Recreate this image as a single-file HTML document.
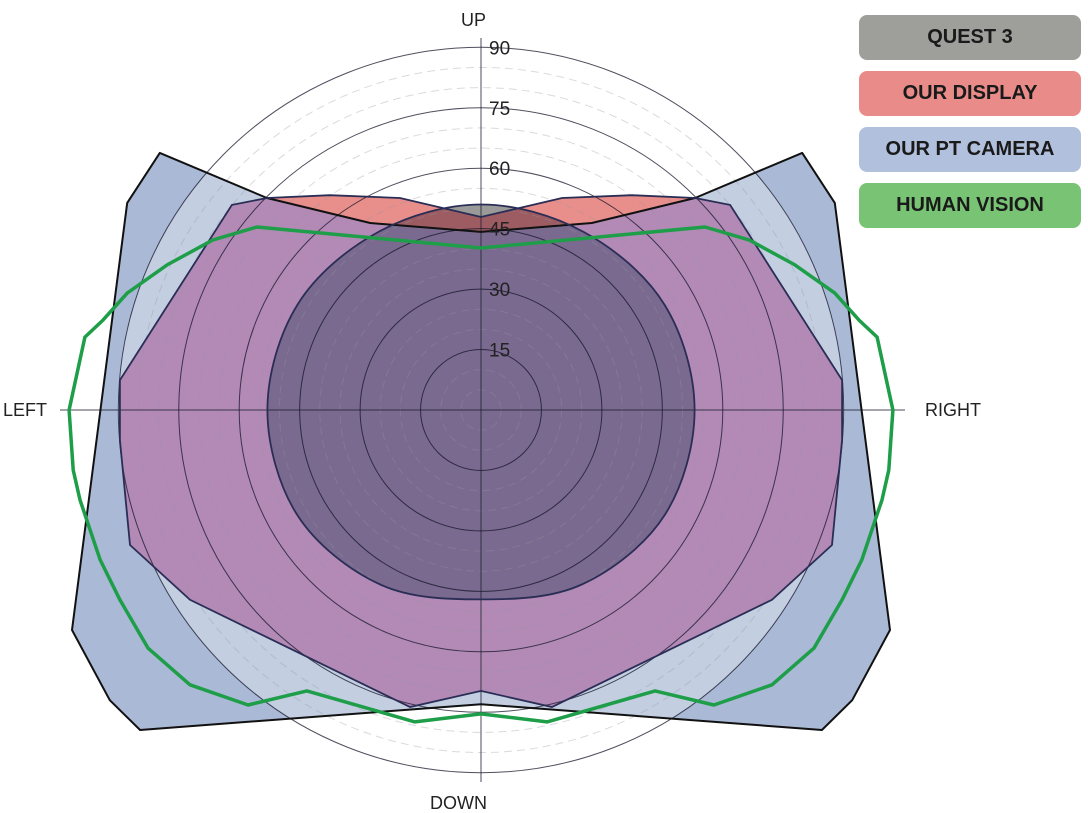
<!DOCTYPE html>
<html><head><meta charset="utf-8"><style>
html,body{margin:0;padding:0;background:#fff;}
body{width:1088px;height:813px;overflow:hidden;position:relative;font-family:"Liberation Sans",sans-serif;}
.leg{position:absolute;left:859px;width:222px;height:45px;border-radius:8px;font-weight:bold;font-size:20px;color:#1a1a1a;text-align:center;line-height:45px;}
</style></head><body>
<svg id="chart" width="1088" height="813" style="position:absolute;left:0;top:0"></svg>
<div class="leg" style="top:15px;background:#9e9e9b">QUEST 3</div>
<div class="leg" style="top:71px;background:#e98c89">OUR DISPLAY</div>
<div class="leg" style="top:127px;background:#b1c0dc">OUR PT CAMERA</div>
<div class="leg" style="top:183px;background:#79c375">HUMAN VISION</div>
<script>
// data in degrees: horizontal (h) and vertical (v) field-of-view coordinates
const ringTicks=[15,30,45,60,75,90];
const tickLabels=["15","30","45","60","75","90"];
const dashRings=[5,10,20,25,35,40,50,55,65,70,80,85];
const cameraH=[-79.7,-53.1,-27.5,0,27.5,53.1,79.7,87.8,101.5,92.1,84.6,0,-84.6,-92.1,-101.5,-87.8];
const cameraV=[63.8,52.6,46.4,44.2,46.4,52.6,63.8,51.4,-54.6,-72.0,-79.4,-73.0,-79.4,-72.0,-54.6,51.4];
const displayH=[-53.1,-37.5,-20.1,0,20.1,37.5,53.1,61.8,89.6,89.6,87.1,72.2,17.6,0,-17.6,-72.2,-87.1,-89.6,-89.6,-61.8];
const displayV=[52.6,53.3,52.6,47.9,52.6,53.3,52.6,50.9,7.4,-7.4,-33.5,-47.1,-73.7,-69.7,-73.7,-47.1,-33.5,-7.4,7.4,50.9];
const questAngle=[0,30,60,90,120,150,180,210,240,270,300,330];
const questR=[53,52.5,51,51,51,52.5,53,52.5,50,47,50,52.5];
const humanH=[-102.2,-98.3,-93.8,-87.8,-77.9,-66.5,-55.6,0,55.6,66.5,77.9,87.8,93.8,98.3,102.2,101.2,99.5,94.5,89.6,82.6,72.2,57.8,43.2,16.4,0,-16.4,-43.2,-57.8,-72.2,-82.6,-89.6,-94.5,-99.5,-101.2];
const humanV=[0,18.1,22.3,29.0,36.0,42.2,45.4,40.2,45.4,42.2,36.0,29.0,22.3,18.1,0,-14.9,-22.3,-37.2,-47.1,-59.1,-68.2,-73.2,-69.7,-77.4,-75.4,-77.4,-69.7,-73.2,-68.2,-59.1,-47.1,-37.2,-22.3,-14.9];

const CX=481,CY=410,K=4.03;
const sx=h=>CX+h*K, sy=v=>CY-v*K;
const NS='http://www.w3.org/2000/svg';
const svg=document.getElementById('chart');
function mk(tag,attrs,parent){const e=document.createElementNS(NS,tag);for(const k in attrs)e.setAttribute(k,attrs[k]);(parent||svg).appendChild(e);return e;}
function poly(H,V){return H.map((h,i)=>sx(h).toFixed(1)+','+sy(V[i]).toFixed(1)).join(' ');}
function questPath(){
  const P=questAngle.map((a,i)=>[sx(questR[i]*Math.cos(a*Math.PI/180)),sy(questR[i]*Math.sin(a*Math.PI/180))]);
  const n=P.length;let d='M'+P[0][0]+','+P[0][1];
  for(let i=0;i<n;i++){const p0=P[(i-1+n)%n],p1=P[i],p2=P[(i+1)%n],p3=P[(i+2)%n];
    d+=' C'+(p1[0]+(p2[0]-p0[0])/6)+','+(p1[1]+(p2[1]-p0[1])/6)+' '+(p2[0]-(p3[0]-p1[0])/6)+','+(p2[1]-(p3[1]-p1[1])/6)+' '+p2[0]+','+p2[1];}
  return d+'Z';
}
const defs=mk('defs',{});
const cpCam=mk('clipPath',{id:'cpCam'},defs);mk('polygon',{points:poly(cameraH,cameraV)},cpCam);
const cpDisp=mk('clipPath',{id:'cpDisp'},defs);mk('polygon',{points:poly(displayH,displayV)},cpDisp);
const cpCirc=mk('clipPath',{id:'cpCirc'},defs);mk('circle',{cx:CX,cy:CY,r:90*K},cpCirc);

let e=mk('polygon',{points:poly(cameraH,cameraV),fill:'#aab9d5'});


const gc=mk('g',{'clip-path':'url(#cpCirc)'});
mk('polygon',{points:poly(cameraH,cameraV),fill:'#c3cee1'},gc);
e=mk('polygon',{points:poly(displayH,displayV),fill:'#e88e8b'});


const gdc=mk('g',{'clip-path':'url(#cpCam)'});
mk('polygon',{points:poly(displayH,displayV),fill:'#b28ab5'},gdc);
e=mk('path',{d:questPath(),fill:'#9a9a98'});


const gq1=mk('g',{'clip-path':'url(#cpDisp)'});
mk('path',{d:questPath(),fill:'#9c5c62'},gq1);
const gq2=mk('g',{'clip-path':'url(#cpCam)'},gq1);
mk('path',{d:questPath(),fill:'#7a6a8f'},gq2);

dashRings.forEach(r=>{const c=mk('circle',{cx:CX,cy:CY,r:r*K,fill:'none',stroke:'rgba(150,150,160,0.35)','stroke-width':1,'stroke-dasharray':'8,5'});
  
  });
ringTicks.forEach(r=>{const c=mk('circle',{cx:CX,cy:CY,r:r*K,fill:'none',stroke:'rgba(20,20,40,0.75)','stroke-width':1});
  
  });
mk('line',{x1:60,y1:CY,x2:905,y2:CY,stroke:'rgba(30,30,50,0.8)','stroke-width':1});
mk('line',{x1:CX,y1:38,x2:CX,y2:782,stroke:'rgba(30,30,50,0.8)','stroke-width':1});

mk('polygon',{points:poly(cameraH,cameraV),fill:'none',stroke:'#111','stroke-width':2,'stroke-linejoin':'round'});
mk('polygon',{points:poly(displayH,displayV),fill:'none',stroke:'#2a2d55','stroke-width':1.8});
mk('path',{d:questPath(),fill:'none',stroke:'#2a2d55','stroke-width':1.8});
e=mk('polygon',{points:poly(humanH,humanV),fill:'none',stroke:'#1e9e48','stroke-width':3.5,'stroke-linejoin':'round'});



ringTicks.forEach((r,i)=>{const t=mk('text',{x:CX+8,y:sy(r)+7,'font-size':19,fill:'#222','font-family':'Liberation Sans, sans-serif'});t.textContent=tickLabels[i];
  
  });
[['UP',461,26],['LEFT',3,416],['RIGHT',925,416],['DOWN',430,809]].forEach(a=>{
  const t=mk('text',{x:a[1],y:a[2],'font-size':18,fill:'#222','font-family':'Liberation Sans, sans-serif'});t.textContent=a[0];
  
  });
</script>
</body></html>
